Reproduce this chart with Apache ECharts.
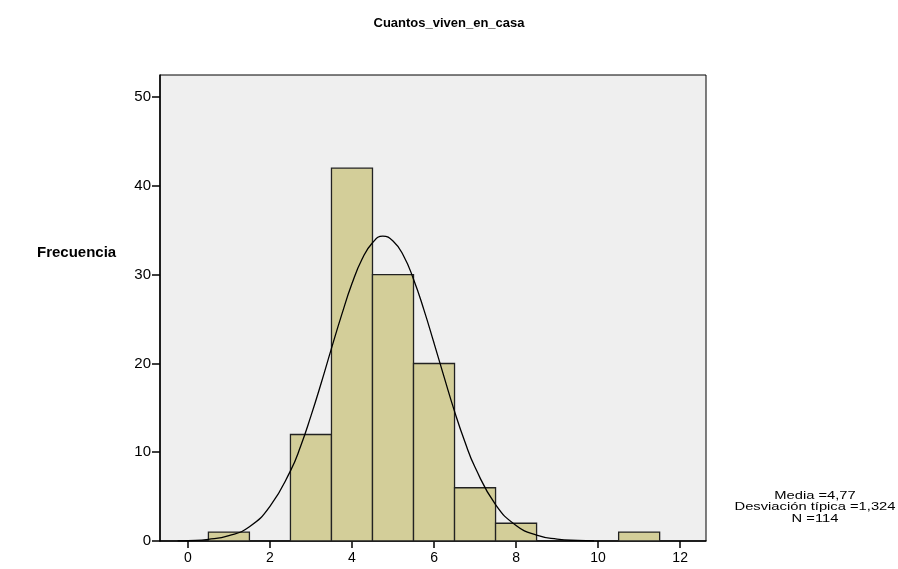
<!DOCTYPE html>
<html>
<head>
<meta charset="utf-8">
<script src="https://cdn.jsdelivr.net/npm/echarts@6/dist/echarts.min.js"></script>
<style>
  html, body { margin: 0; padding: 0; background: #fff; }
  #chart { width: 898px; height: 569px; }
</style>
</head>
<body>
<div id="chart"></div>
<script>
// Histogram bins (centre of each one-unit bin) and counts
const binCenters = [1, 3, 4, 5, 6, 7, 8, 11];
const binCounts = [1, 12, 42, 30, 20, 6, 2, 1];

// Normal curve
const curveX = [-0.25, 0, 0.5, 1, 1.5, 2, 2.5, 2.75, 3, 3.25, 3.5, 3.75, 4, 4.25, 4.5, 4.75, 5, 5.25, 5.5, 5.75, 6, 6.25, 6.5, 6.75, 7, 7.5, 8, 8.5, 9, 9.5, 9.9];
const curveY = [0.02, 0.05, 0.19, 0.6, 1.6, 3.9, 7.9, 10.7, 14.1, 17.8, 21.7, 25.5, 29.0, 31.8, 33.6, 34.35, 33.8, 32.2, 29.5, 26.1, 22.3, 18.4, 14.6, 11.2, 8.3, 4.1, 1.75, 0.65, 0.21, 0.06, 0.02];

const xTicks = [0, 2, 4, 6, 8, 10, 12];
const yTicks = [0, 10, 20, 30, 40, 50];

const statsText = ["Media =4,77", "Desviación típica =1,324", "N =114"];

const chart = echarts.init(document.getElementById("chart"));
const font = "Liberation Sans, Arial, sans-serif";

chart.setOption({
    animation: false,
    backgroundColor: "#fff",
    title: {
        text: "Cuantos_viven_en_casa",
        left: 444, top: 12, textAlign: "center",
        textStyle: { fontFamily: font, fontSize: 13, fontWeight: "bold", color: "#000" }
    },
    grid: {
        left: 160, right: 192, top: 75, bottom: 28,
        show: true, backgroundColor: "#efefef", borderColor: "#000", borderWidth: 1
    },
    xAxis: {
        type: "value", min: -0.68, max: 12.63,
        splitLine: { show: false },
        axisLine: { show: true, onZero: false, lineStyle: { color: "#000", width: 1.5 } },
        axisTick: { show: true, customValues: xTicks, length: 7, lineStyle: { color: "#000", width: 1.5 } },
        axisLabel: { customValues: xTicks, color: "#000", fontFamily: font, fontSize: 14, margin: 10 }
    },
    yAxis: {
        type: "value", min: 0, max: 52.5,
        splitLine: { show: false },
        axisLine: { show: true, onZero: false, lineStyle: { color: "#000", width: 1.5 } },
        axisTick: { show: true, customValues: yTicks, length: 8, lineStyle: { color: "#000", width: 1.5 } },
        axisLabel: { customValues: yTicks, color: "#000", fontFamily: font, fontSize: 15, margin: 9 }
    },
    graphic: [
        {
            type: "text", left: 37, top: 245,
            style: { text: "Frecuencia", font: "bold 15px " + font, fill: "#000" }
        },
        {
            type: "text", x: 815, y: 490, scaleX: 1.34,
            style: { text: statsText.join("\n"), font: "11px " + font, fill: "#000", align: "center", lineHeight: 11.5 }
        }
    ],
    series: [
        {
            type: "custom",
            data: binCenters.map((c, i) => [c, binCounts[i]]),
            renderItem: (params, api) => {
                const c = api.value(0);
                const p0 = api.coord([c - 0.5, 0]);
                const p1 = api.coord([c + 0.5, api.value(1)]);
                return {
                    type: "rect",
                    shape: { x: p0[0], y: p1[1], width: p1[0] - p0[0], height: p0[1] - p1[1] },
                    style: { fill: "#d3ce99", stroke: "#222", lineWidth: 1.3 }
                };
            },
            z: 2
        },
        {
            type: "line",
            data: curveX.map((x, i) => [x, curveY[i]]),
            smooth: true,
            showSymbol: false,
            lineStyle: { color: "#000", width: 1.3 },
            z: 3
        }
    ]
});
</script>
</body>
</html>
